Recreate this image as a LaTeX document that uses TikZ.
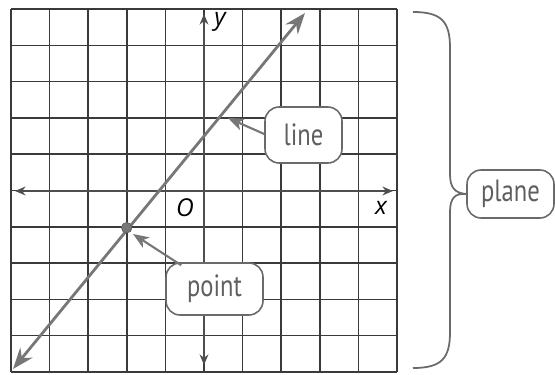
\documentclass[tikz,border=0pt]{standalone}
\usepackage{fontspec}
\setmainfont{PT Sans}
\newfontfamily\labfont[FakeStretch=0.8]{PT Sans}
\newfontfamily\axfont{Open Sans}
\usetikzlibrary{arrows.meta}
\definecolor{gridc}{HTML}{3A3A3A}
\definecolor{linec}{HTML}{777777}
\definecolor{boxc}{HTML}{6A6A6A}
\tikzset{
  gridline/.style={draw=gridc, line width=0.8pt},
  axisline/.style={draw=gridc!90, line width=1pt, {Stealth[length=6pt,width=5pt,fill=linec]}-{Stealth[length=6pt,width=5pt,fill=linec]}},
  mainline/.style={draw=linec, line width=1.6pt, {Stealth[length=12pt,width=9pt,inset=4pt]}-{Stealth[length=12pt,width=9pt,inset=4pt]}},
  labbox/.style={draw=boxc, line width=0.9pt, rounded corners=8pt, fill=white, text=boxc!90!black, font=\labfont\fontsize{17.5}{18}\selectfont, inner sep=0pt},
  callout/.style={draw=linec, line width=1.2pt, -{Stealth[length=9pt,width=7pt,inset=2.5pt]}},
  axlab/.style={font=\axfont\itshape\fontsize{14}{15}\selectfont, text=black, inner sep=0pt},
}
\begin{document}
\begin{tikzpicture}[x=0.02cm, y=-0.02cm]
\useasboundingbox (0,0) rectangle (555,375);
% grid
\foreach \i in {0,...,10} {
  \draw[gridline] ({11+\i*38.6},9) -- ({11+\i*38.6},372);
  \draw[gridline] (11,{9+\i*36.3}) -- (397,{9+\i*36.3});
}
% axes
\coordinate (xa) at (15,191);
\coordinate (xb) at (393,191);
\coordinate (ya) at (204,365);
\coordinate (yb) at (204,14);
\draw[axisline] (xa) -- (xb);
\draw[axisline] (ya) -- (yb);
\node[axlab] (ylab) at (220,22) {y};
\node[axlab] (olab) at (185,208) {O};
\node[axlab] (xlab) at (381,208) {x};
% main line
\coordinate (L1) at (13,369);
\coordinate (L2) at (305,13);
\draw[mainline] (L1) -- (L2);
\node[circle, fill=linec, draw=linec!80!black, minimum size=6pt, inner sep=0pt] (pt) at (126.7,227.7) {};
% labels
\node[labbox, minimum width=77*0.569pt, minimum height=56*0.569pt] (line) at (303.5,135) {line};
\coordinate (linetip) at (228,118);
\draw[callout] (line.west) ++(0,-1) coordinate (ls) (ls) -- (linetip);
\node[labbox, minimum width=97*0.569pt, minimum height=52*0.569pt] (point) at (214.5,289) {point};
\coordinate (pointtip) at (133,234);
\draw[callout] (point.north west) ++(16,3) coordinate (ps) (ps) -- (pointtip);
% brace
\node[labbox, minimum width=87*0.569pt, minimum height=48*0.569pt] (plane) at (510.5,194) {plane};
\coordinate (bt) at (413,12);
\coordinate (bb) at (413,368);
\draw[draw=boxc, line width=1pt] (bt) .. controls (442,12) and (450,22) .. (450,48)
  -- (450,174) .. controls (450,188) and (455,193) .. (plane.west)
  (plane.west) .. controls (455,193) and (450,198) .. (450,212)
  -- (450,332) .. controls (450,358) and (442,368) .. (bb);
\end{tikzpicture}
\end{document}
